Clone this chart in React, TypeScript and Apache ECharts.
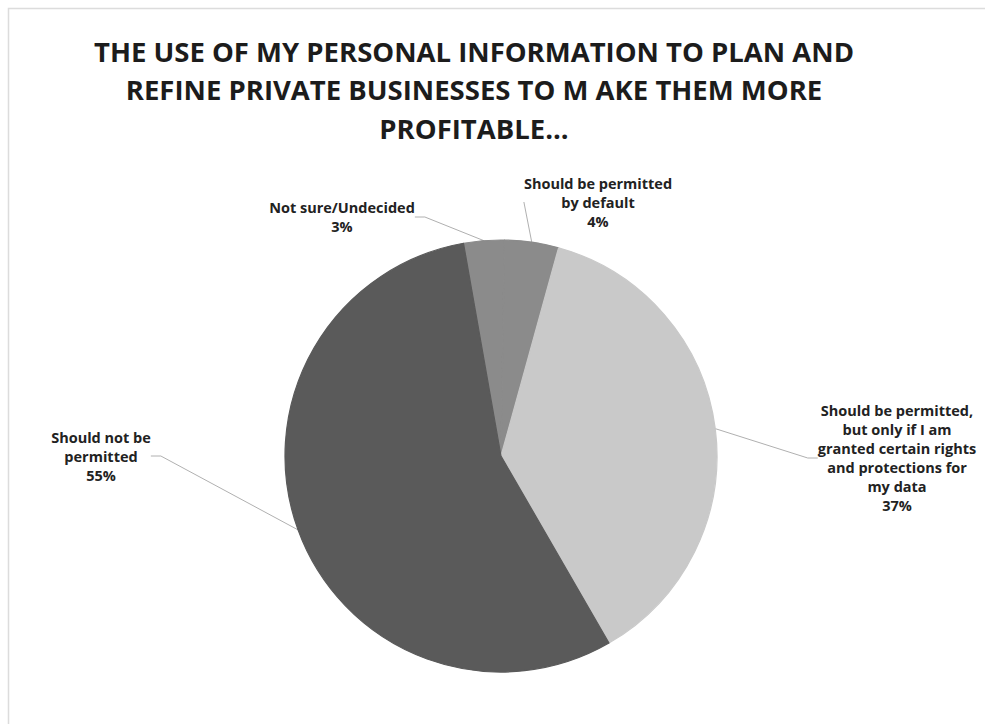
import React, { useEffect, useRef } from "react";
import * as echarts from "echarts";

const titleText =
  "THE USE OF MY PERSONAL INFORMATION TO PLAN AND\nREFINE PRIVATE BUSINESSES TO M AKE THEM MORE\nPROFITABLE...";

const categories = [
  "Not sure/Undecided",
  "Should be permitted\nby default",
  "Should be permitted,\nbut only if I am\ngranted certain rights\nand protections for\nmy data",
  "Should not be\npermitted",
];
const values = [3, 4, 37, 55];
const colors = ["#8b8b8b", "#8b8b8b", "#c9c9c9", "#5a5a5a"];

// label anchor positions (centre x, middle y) in chart pixels
const labelPos = [
  { x: 342, y: 217 },
  { x: 598, y: 202 },
  { x: 897, y: 458 },
  { x: 101, y: 456 },
];

export default function App() {
  const ref = useRef<HTMLDivElement>(null);
  useEffect(() => {
    document.body.style.margin = "0";
    const chart = echarts.init(ref.current!, null, { renderer: "svg" });
    chart.setOption({
      animation: false,
      backgroundColor: "#ffffff",
      title: {
        text: titleText,
        left: 469,
        top: 27,
        textAlign: "center",
        textStyle: {
          fontFamily: "'Open Sans', sans-serif",
          fontWeight: "bold",
          fontSize: 27.5,
          lineHeight: 38.5,
          color: "#1c1c1c",
        },
      },
      graphic: [
        {
          type: "rect",
          shape: { x: 8.5, y: 8.5, width: 1000, height: 800 },
          style: { fill: "none", stroke: "#dcdcdc", lineWidth: 1.5 },
          silent: true,
        },
      ],
      series: [
        {
          type: "pie",
          center: [501, 456],
          radius: 216,
          startAngle: 100,
          clockwise: true,
          data: categories.map((c, i) => ({
            name: c,
            value: values[i],
            itemStyle: { color: colors[i], borderColor: colors[i], borderWidth: 1.2 },
          })),
          label: {
            show: true,
            formatter: (p: any) => `${p.name}\n${p.value}%`,
            fontFamily: "'Open Sans', sans-serif",
            fontWeight: "bold",
            fontSize: 14.5,
            lineHeight: 19,
            color: "#222222",
            align: "center",
          },
          labelLine: {
            show: true,
            length: 20,
            length2: 10,
            lineStyle: { color: "#b0b0b0", width: 1 },
          },
          labelLayout: (params: any) => {
            const p = labelPos[params.dataIndex];
            return {
              x: p.x,
              y: p.y,
              align: "center",
              verticalAlign: "middle",
            };
          },
        },
      ],
    });
    return () => chart.dispose();
  }, []);
  return <div ref={ref} style={{ width: 985, height: 724 }} />;
}
